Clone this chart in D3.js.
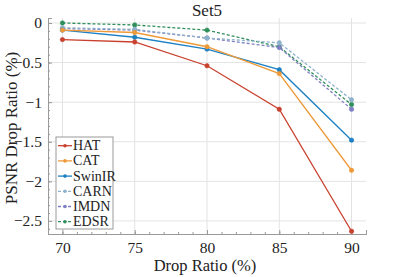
<!DOCTYPE html>
<html>
<head>
<meta charset="utf-8">
<script src="https://cdn.jsdelivr.net/npm/d3@7"></script>
<style>
  body { margin: 0; background: #fff; }
</style>
</head>
<body>
<div class="canva"></div>
<script>
// drop ratios on the x axis
const ratios = [70, 75, 80, 85, 90];

// PSNR drop ratio (%) per model
const hat    = [-0.21, -0.24, -0.54, -1.09, -2.63];
const cat    = [-0.09, -0.12, -0.30, -0.64, -1.86];
const swinir = [-0.09, -0.18, -0.33, -0.59, -1.48];
const carn   = [-0.06, -0.08, -0.19, -0.25, -0.97];
const imdn   = [-0.07, -0.09, -0.19, -0.31, -1.09];
const edsr   = [0.00, -0.025, -0.09, -0.30, -1.03];

const xTicks = [70, 75, 80, 85, 90];
const yTicks = [0, -0.5, -1, -1.5, -2, -2.5];

const serif = '"Liberation Serif"';

const series = [
  {name: 'HAT', values: hat, color: '#c9412e', dash: null},
  {name: 'CAT', values: cat, color: '#ef9a38', dash: null},
  {name: 'SwinIR', values: swinir, color: '#1d80c3', dash: null},
  {name: 'CARN', values: carn, color: '#8fb2cc', dash: '3,2'},
  {name: 'IMDN', values: imdn, color: '#7f7fc4', dash: '3,2'},
  {name: 'EDSR', values: edsr, color: '#2f8f5a', dash: '3,2'}
];

const svg = d3.select('.canva').append('svg')
  .attr('width', 407)
  .attr('height', 277);

const margin = {top: 18, right: 41, bottom: 43, left: 48};
const width = 407 - margin.left - margin.right;
const height = 277 - margin.top - margin.bottom;

const graph = svg.append('g')
  .attr('transform', `translate(${margin.left}, ${margin.top})`);

const x = d3.scaleLinear().domain([69, 91]).range([0, width]);
const y = d3.scaleLinear().domain([-2.665, 0.063]).range([height, 0]);

// grid
graph.append('g').selectAll('line').data(xTicks).enter().append('line')
  .attr('x1', d => x(d)).attr('x2', d => x(d))
  .attr('y1', 0).attr('y2', height)
  .attr('stroke', '#e3e3e3').attr('stroke-width', 1);
graph.append('g').selectAll('line').data(yTicks).enter().append('line')
  .attr('x1', 0).attr('x2', width)
  .attr('y1', d => y(d)).attr('y2', d => y(d))
  .attr('stroke', '#e3e3e3').attr('stroke-width', 1);

// axes, ticks pointing in
const xAxis = d3.axisBottom(x).tickValues(xTicks).tickSize(-4).tickPadding(8);
const yAxis = d3.axisLeft(y).tickValues(yTicks).tickSize(-4).tickPadding(6)
  .tickFormat(d => d === 0 ? '0' : d3.format('')(d));

const xMinor = d3.axisBottom(x).tickValues(d3.range(69, 92, 1)).tickSize(-2).tickFormat('');
const yMinor = d3.axisLeft(y).tickValues(d3.range(-26, 1, 1).map(v => v / 10)).tickSize(-2).tickFormat('');

const xg = graph.append('g').attr('transform', `translate(0, ${height})`).call(xAxis);
const yg = graph.append('g').call(yAxis);
graph.append('g').attr('transform', `translate(0, ${height})`).call(xMinor);
graph.append('g').call(yMinor);

graph.selectAll('.domain').attr('stroke', '#9a9a9a');
graph.selectAll('.tick line').attr('stroke', '#9a9a9a');
[xg, yg].forEach(g => {
  g.selectAll('text')
    .style('font-family', serif)
    .style('font-size', '15.5px')
    .attr('fill', '#222');
});

// lines
const line = d3.line()
  .x((d, i) => x(ratios[i]))
  .y(d => y(d));

series.slice().reverse().forEach(s => {
  graph.append('path')
    .datum(s.values)
    .attr('fill', 'none')
    .attr('stroke', s.color)
    .attr('stroke-width', 1.3)
    .attr('stroke-dasharray', s.dash)
    .attr('d', line);
  graph.append('g').selectAll('circle').data(s.values).enter().append('circle')
    .attr('cx', (d, i) => x(ratios[i]))
    .attr('cy', d => y(d))
    .attr('r', 2.2)
    .attr('fill', s.color)
    .attr('stroke', s.color)
    .attr('stroke-width', 0.6);
});

// legend
const legend = svg.append('g').attr('transform', 'translate(56, 137)');
legend.append('rect')
  .attr('width', 57).attr('height', 92)
  .attr('fill', '#fff').attr('stroke', '#9a9a9a').attr('stroke-width', 1);
series.forEach((s, i) => {
  const ly = 8.7 + i * 15.2;
  legend.append('line')
    .attr('x1', 2).attr('x2', 16)
    .attr('y1', ly).attr('y2', ly)
    .attr('stroke', s.color).attr('stroke-width', 1.3)
    .attr('stroke-dasharray', s.dash);
  legend.append('circle')
    .attr('cx', 9).attr('cy', ly).attr('r', 1.8)
    .attr('fill', s.color);
  legend.append('text')
    .attr('x', 17).attr('y', ly + 4.5)
    .style('font-family', serif)
    .style('font-size', '14px')
    .attr('fill', '#222')
    .text(s.name);
});

// title and labels
svg.append('text')
  .attr('x', 207).attr('y', 16)
  .attr('text-anchor', 'middle')
  .style('font-family', serif)
  .style('font-size', '17px')
  .attr('fill', '#222')
  .text('Set5');

svg.append('text')
  .attr('x', 205).attr('y', 271)
  .attr('text-anchor', 'middle')
  .style('font-family', serif)
  .style('font-size', '16.5px')
  .attr('fill', '#222')
  .text('Drop Ratio (%)');

svg.append('text')
  .attr('transform', 'translate(17, 128) rotate(-90)')
  .attr('text-anchor', 'middle')
  .style('font-family', serif)
  .style('font-size', '17px')
  .attr('fill', '#222')
  .text('PSNR Drop Ratio (%)');
</script>
</body>
</html>
